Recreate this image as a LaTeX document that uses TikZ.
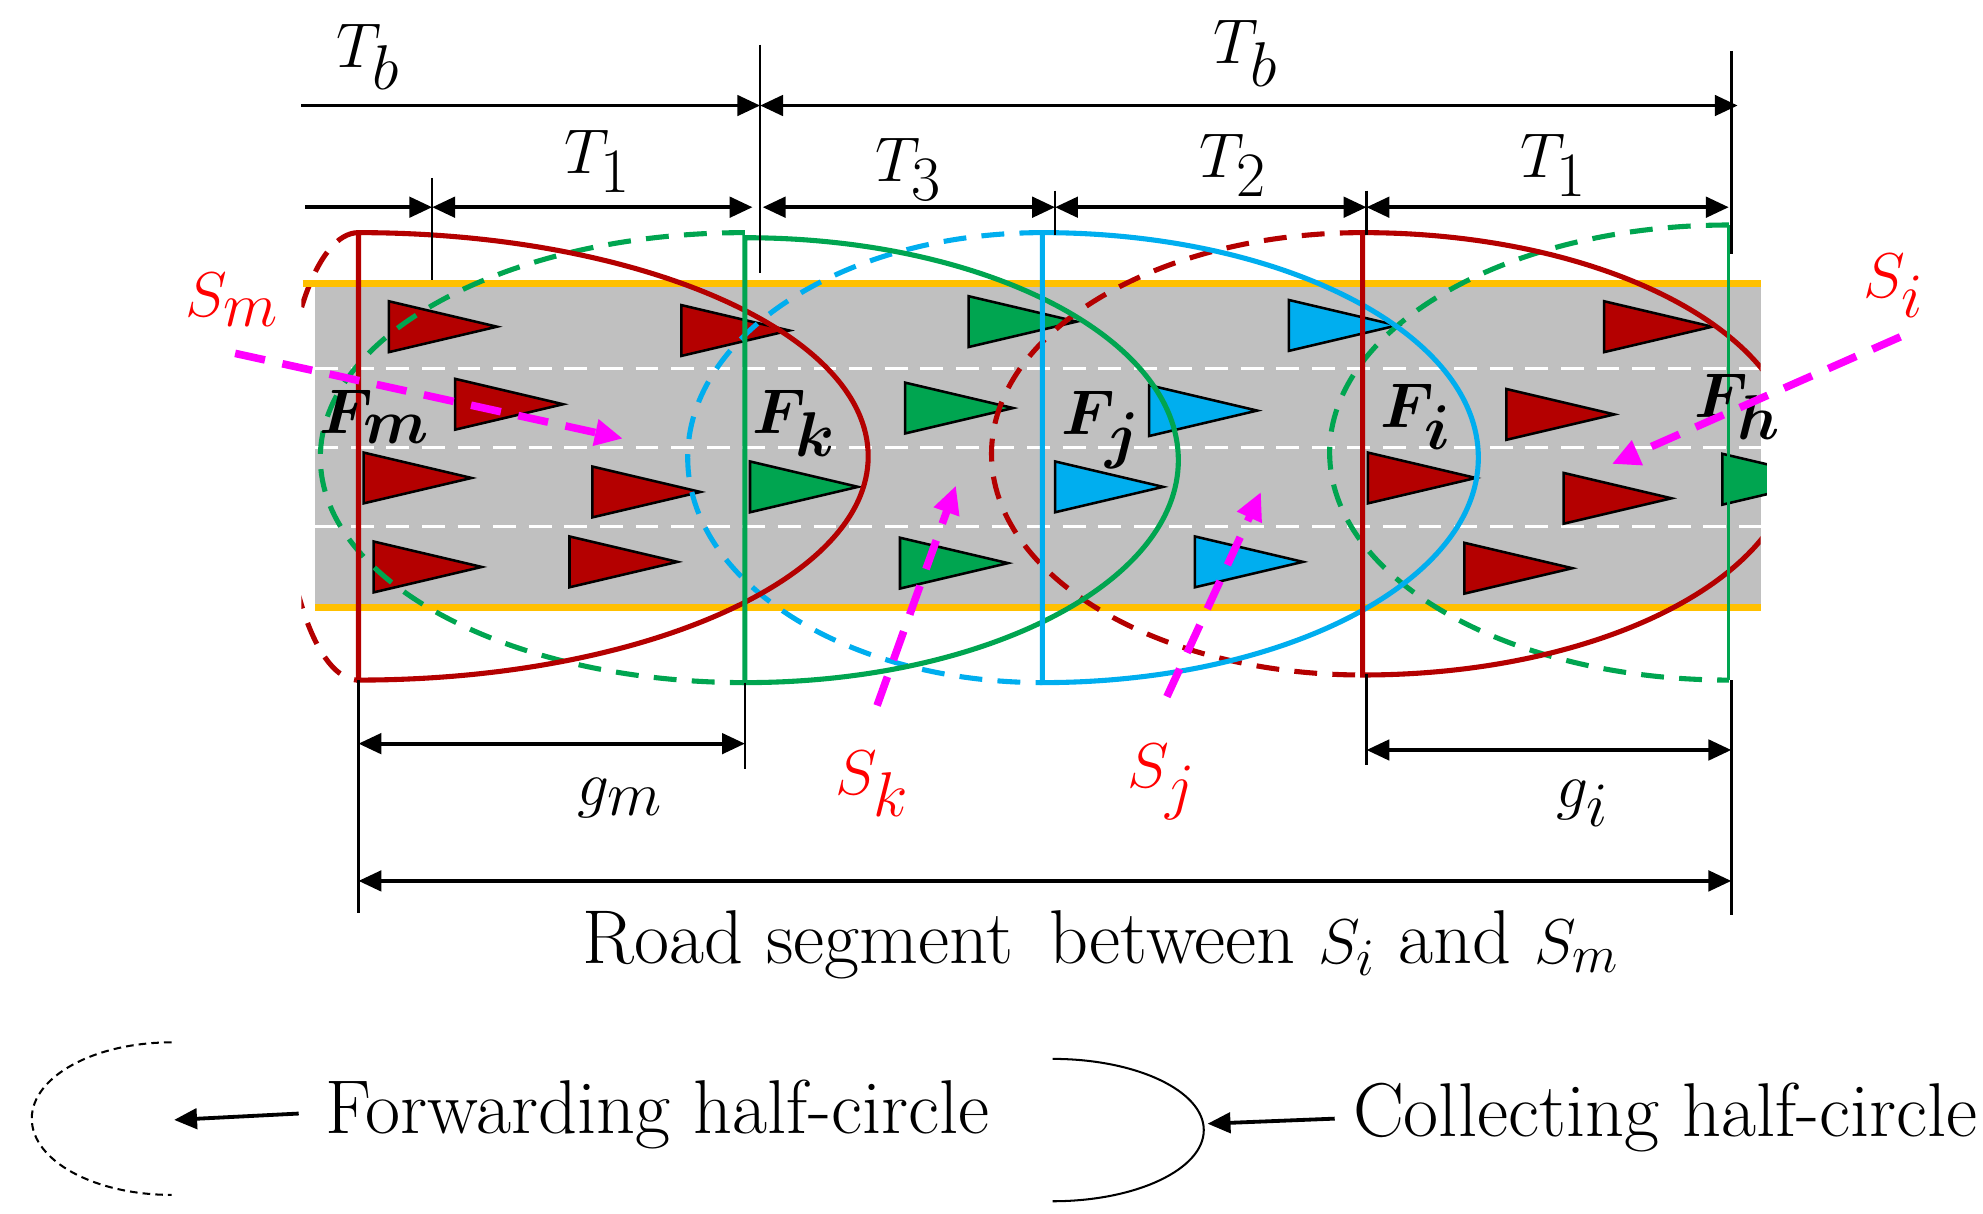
\documentclass[tikz,border=0pt]{standalone}
\usepackage{bm}
\usetikzlibrary{arrows.meta}
\definecolor{dred}{HTML}{B40000}
\definecolor{tgreen}{HTML}{00A550}
\definecolor{tcyan}{HTML}{00AEEF}
\definecolor{mag}{HTML}{FF00FF}
\definecolor{orng}{HTML}{FFC000}
\definecolor{rgray}{HTML}{C0C0C0}
\begin{document}
\begin{tikzpicture}[x=0.5pt,y=-0.5pt,
 lbl/.style={font=\fontsize{34}{38}\selectfont,inner sep=0pt},
 txt/.style={font=\fontsize{30}{34}\selectfont,inner sep=0pt},
 dim/.style={line width=1.5pt,-{Triangle[length=9pt,width=8pt]}},
 ddim/.style={line width=1.5pt,{Triangle[length=9pt,width=8pt]}-{Triangle[length=9pt,width=8pt]}},
 tick/.style={line width=1pt},
 coll/.style={line width=2pt},
 fwd/.style={line width=2pt,dash pattern=on 9pt off 6pt},
 veh/.style={draw=black,line width=1pt},
 sarr/.style={mag,line width=3pt,dash pattern=on 12pt off 7pt,-{Triangle[length=11pt,width=10pt]}}]
\useasboundingbox (0,0) rectangle (1560,955);
\begin{scope}\clip (237,0) rectangle (1390,955);
\draw[fwd,dred] (282,183) arc[start angle=-90,end angle=-270,x radius=60,y radius=176];
\end{scope}
% road
\fill[rgray] (248,225) rectangle (1385,478);
\draw[orng,line width=2.5pt] (238,223)--(1385,223) (248,478)--(1385,478);
\foreach \y in {290,352,414}\draw[white,line width=1.2pt,dash pattern=on 9pt off 5pt] (248,\y)--(1385,\y);
% vehicles
\newcommand{\veh}[3]{\draw[veh,fill=#3] (#1,#2-20)--(#1+85,#2)--(#1,#2+20)--cycle;}
\foreach \a/\b in {306/257,536/260,358/318,286/376,466/387,294/446,448/442,1262/257,1185/326,1076/376,1230/392,1152/447}{\veh{\a}{\b}{dred}}
\foreach \a/\b in {762/253,712/321,590/383,708/443}{\veh{\a}{\b}{tgreen}}
\begin{scope}\clip (0,0) rectangle (1390,955);\veh{1355}{377}{tgreen}\end{scope}
\foreach \a/\b in {1014/256,904/323,830/383,940/442}{\veh{\a}{\b}{tcyan}}
% forwarding half-circles
\draw[fwd,tgreen] (586,183) arc[start angle=-90,end angle=-270,x radius=334,y radius=177];
\draw[fwd,tcyan] (820,183) arc[start angle=-90,end angle=-270,x radius=279,y radius=177];
\draw[fwd,dred] (1072,183) arc[start angle=-90,end angle=-270,x radius=292,y radius=174];
\draw[fwd,tgreen] (1360,177) arc[start angle=-90,end angle=-270,x radius=314,y radius=179];
% collecting half-circles
\draw[coll,dred] (282,183) arc[start angle=-90,end angle=90,x radius=401,y radius=176]--cycle;
\draw[coll,tgreen] (586,187) arc[start angle=-90,end angle=90,x radius=341,y radius=175]--cycle;
\draw[coll,tcyan] (820,183) arc[start angle=-90,end angle=90,x radius=343,y radius=177]--cycle;
\begin{scope}\clip (0,0) rectangle (1385,955);
\draw[coll,dred] (1072,183) arc[start angle=-90,end angle=90,x radius=340,y radius=174]--cycle;
\end{scope}
\draw[tgreen,line width=1.2pt] (1360,177)--(1360,535);
% F labels
\node[lbl] (fm) at (295,328) {$\bm{F_m}$};
\node[lbl] (fk) at (625,333) {$\bm{F_k}$};
\node[lbl] (fj) at (866,338) {$\bm{F_j}$};
\node[lbl] (fi) at (1114,328) {$\bm{F_i}$};
\node[lbl] (fh) at (1367,320) {$\bm{F_h}$};
% S labels and arrows
\node[lbl,red] (sm) at (183,236) {$S_m$};
\node[lbl,red] (si) at (1490,225) {$S_i$};
\node[lbl,red] (sk) at (686,617) {$S_k$};
\node[lbl,red] (sj) at (914,615) {$S_j$};
\coordinate (am) at (490,345);\coordinate (ai) at (1268,365);
\coordinate (ak) at (752,382);\coordinate (aj) at (992,387);
\draw[sarr] (185,278)--(am);
\draw[sarr] (1495,265)--(ai);
\draw[sarr] (690,555)--(ak);
\draw[sarr] (918,548)--(aj);
% top dimensions
\draw[tick] (598,35)--(598,215) (1362,40)--(1362,200) (340,140)--(340,220) (830,150)--(830,185) (1075,150)--(1075,185);
\draw[dim] (237,83)--(598,83);
\draw[ddim] (598,83)--(1367,83);
\draw[dim] (240,163)--(340,163);
\draw[ddim] (340,163)--(592,163);
\draw[ddim] (600,163)--(830,163);
\draw[ddim] (830,163)--(1075,163);
\draw[ddim] (1075,163)--(1360,163);
\node[lbl] (tb1) at (290,45) {$T_b$};
\node[lbl] (tb2) at (980,42) {$T_b$};
\node[lbl] (t1a) at (470,127) {$T_1$};
\node[lbl] (t3) at (715,133) {$T_3$};
\node[lbl] (t2) at (970,130) {$T_2$};
\node[lbl] (t1b) at (1222,130) {$T_1$};
% bottom dimensions
\draw[tick] (282,535)--(282,718) (586,537)--(586,605) (1075,530)--(1075,602) (1362,535)--(1362,720);
\draw[ddim] (282,585)--(586,585);
\draw[ddim] (1075,590)--(1362,590);
\draw[ddim] (282,693)--(1362,693);
\node[lbl] (gm) at (488,628) {$g_m$};
\node[lbl] (gi) at (1245,632) {$g_i$};
\node[txt] (road) at (866,743) {Road segment\, between $S_i$ and $S_m$};
% legend
\draw[line width=0.8pt,dash pattern=on 3pt off 2pt] (135,820) arc[start angle=-90,end angle=-270,x radius=110,y radius=60];
\draw[line width=0.8pt] (828,833) arc[start angle=-90,end angle=90,x radius=119,y radius=56];
\node[txt,anchor=west] (fwdl) at (256,877) {Forwarding half-circle};
\node[txt,anchor=west] (coll) at (1064,879) {Collecting half-circle};
\coordinate (lf) at (137,881);\coordinate (lc) at (950,884);
\draw[dim] (235,876)--(lf);
\draw[dim] (1050,880)--(lc);
\end{tikzpicture}
\end{document}
